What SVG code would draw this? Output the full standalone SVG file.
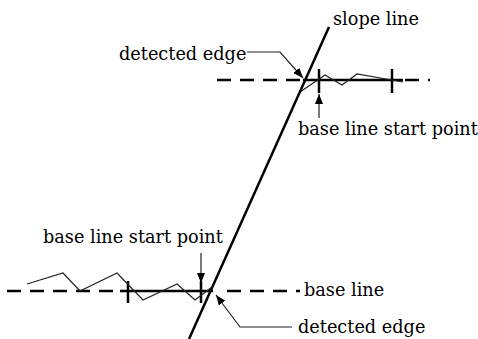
<svg xmlns="http://www.w3.org/2000/svg" width="478" height="339" viewBox="0 0 478 339">
<style>
.thick{stroke:#000;stroke-width:2.5;fill:none}
.dash{stroke:#000;stroke-width:2.5;fill:none;stroke-dasharray:14 9}
.thin{stroke:#222;stroke-width:1.2;fill:none}
.lbl{font-family:"DejaVu Serif",serif;font-size:17.7px;fill:#000}
</style>
<defs>
<marker id="ah" viewBox="0 0 10 8" refX="10" refY="4" markerWidth="10" markerHeight="8" markerUnits="userSpaceOnUse" orient="auto">
<path d="M0,0 L10,4 L0,8 Z" fill="#000"/>
</marker>
</defs>
<rect width="478" height="339" fill="#fff"/>
<g id="upper-baseline">
<line class="dash" x1="217" y1="80" x2="303" y2="80"/>
<line class="dash" x1="405" y1="80" x2="430" y2="80"/>
<line class="thick" x1="303" y1="80" x2="403" y2="80"/>
<line class="thick" x1="319" y1="69" x2="319" y2="93"/>
<line class="thick" x1="392" y1="69" x2="392" y2="93"/>
<polyline class="thin" points="300,92 325,75 342,85 357,74 403,82"/>
</g>
<g id="lower-baseline">
<line class="dash" x1="7" y1="291" x2="120" y2="291"/>
<line class="dash" x1="227" y1="291" x2="300" y2="291"/>
<line class="thick" x1="120" y1="291" x2="213" y2="291"/>
<line class="thick" x1="128" y1="281" x2="128" y2="303"/>
<line class="thick" x1="201" y1="281" x2="201" y2="303"/>
<polyline class="thin" points="27,284 63,273 80,291 117,273 143,300 177,284 195,300 212,287"/>
</g>
<g id="slope">
<line class="thick" x1="329" y1="27" x2="189" y2="339"/>
</g>
<g id="connectors">
<path class="thin" d="M247,52 H280 L303,78" marker-end="url(#ah)"/>
<path class="thin" d="M319,118 V94" marker-end="url(#ah)"/>
<path class="thin" d="M201,253 V283" marker-end="url(#ah)"/>
<path class="thin" d="M292,327 H240 L216,295" marker-end="url(#ah)"/>
</g>
<g id="labels">
<text class="lbl" x="333" y="25">slope line</text>
<text class="lbl" x="119" y="60">detected edge</text>
<text class="lbl" x="298" y="135">base line start point</text>
<text class="lbl" x="43" y="243">base line start point</text>
<text class="lbl" x="304" y="296">base line</text>
<text class="lbl" x="298" y="333">detected edge</text>
</g>
</svg>
